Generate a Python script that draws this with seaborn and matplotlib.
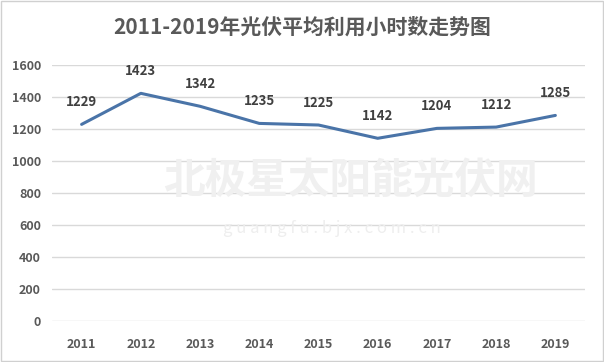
import matplotlib.pyplot as plt
import seaborn as sns
import pandas as pd
from matplotlib.patches import Rectangle

years = ['2011', '2012', '2013', '2014', '2015', '2016', '2017', '2018', '2019']
hours = [1229, 1423, 1342, 1235, 1225, 1142, 1204, 1212, 1285]
yticks = [0, 200, 400, 600, 800, 1000, 1200, 1400, 1600]

df = pd.DataFrame({'year': years, 'hours': hours})

sns.set_style('white')
plt.rcParams['font.family'] = ['Noto Sans CJK SC', 'DejaVu Sans']

fig = plt.figure(figsize=(6.04, 3.62), dpi=100)
ax = fig.add_axes([0.0861, 0.1133, 0.8824, 0.7071])

x = list(range(len(years)))
sns.lineplot(x=x, y=df['hours'], ax=ax, color='#4A74A8', linewidth=2.2)

for xi, v in zip(x, hours):
    ax.annotate(str(v), (xi, v), xytext=(0, 11), textcoords='offset points',
                ha='center', va='bottom', fontsize=9.5, fontweight='bold', color='#404040')

ax.set_xlim(-0.5, len(years) - 0.5)
ax.set_ylim(0, 1600)
ax.set_yticks(yticks)
ax.set_xticks(x)
ax.set_xticklabels(years)
ax.grid(axis='y', color='#d9d9d9', linewidth=1)
ax.set_axisbelow(True)
for s in ax.spines.values():
    s.set_visible(False)
ax.tick_params(axis='both', length=0, labelsize=9, labelcolor='#595959')
ax.tick_params(axis='x', pad=12)
ax.tick_params(axis='y', pad=8)
for lab in ax.get_xticklabels() + ax.get_yticklabels():
    lab.set_fontweight('bold')
ax.set_xlabel('')
ax.set_ylabel('')

# faint watermark
fig.text(0.58, 0.50, '北极星太阳能光伏网', fontsize=30, fontweight='bold',
         color='#f0f0f0', ha='center', va='center', zorder=0)
fig.text(0.55, 0.37, 'g u a n g f u . b j x . c o m . c n', fontsize=12,
         color='#eeeeee', ha='center', va='center', zorder=0)

fig.text(0.5, 0.925, '2011-2019年光伏平均利用小时数走势图', fontsize=15,
         fontweight='bold', color='#595959', ha='center', va='center')

fig.patches.append(Rectangle((0.002, 0.003), 0.996, 0.994, transform=fig.transFigure,
                             fill=False, edgecolor='#d0d0d0', linewidth=1))

fig.savefig('out.png', dpi=100)
